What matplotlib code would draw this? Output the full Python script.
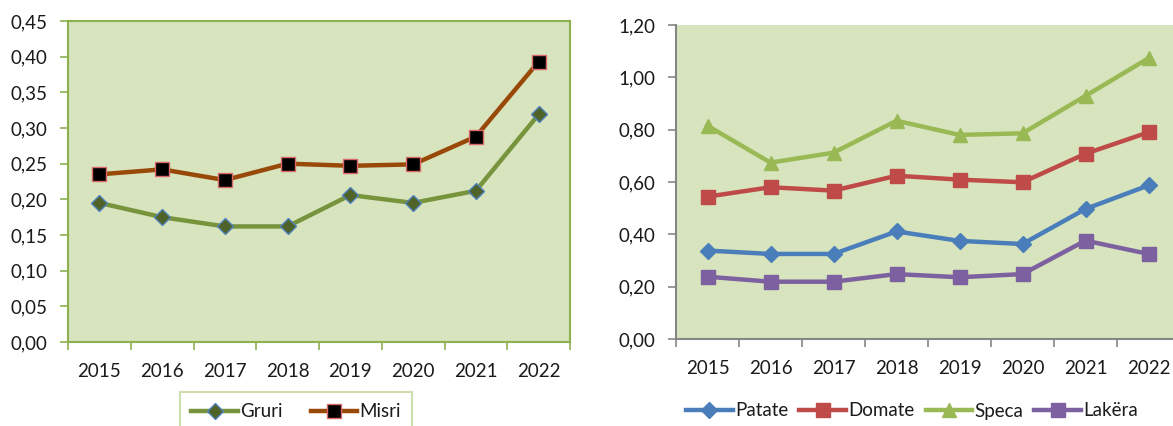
import matplotlib
matplotlib.use("Agg")
import matplotlib.pyplot as plt
from matplotlib.ticker import FixedLocator, FuncFormatter

plt.rcParams['font.family'] = ['Lato', 'DejaVu Sans']

years = ['2015', '2016', '2017', '2018', '2019', '2020', '2021', '2022']
gruri = [0.195, 0.175, 0.162, 0.162, 0.206, 0.195, 0.212, 0.319]
misri = [0.235, 0.242, 0.227, 0.250, 0.247, 0.249, 0.288, 0.393]

patate = [0.338, 0.325, 0.325, 0.411, 0.375, 0.363, 0.497, 0.587]
domate = [0.544, 0.580, 0.567, 0.624, 0.609, 0.599, 0.708, 0.790]
speca = [0.815, 0.674, 0.712, 0.834, 0.780, 0.786, 0.929, 1.073]
lakera = [0.238, 0.219, 0.219, 0.248, 0.236, 0.248, 0.376, 0.325]

W, H = 1173, 426
fig = plt.figure(figsize=(W / 100, H / 100), dpi=100)
FS = 13.5
TXT = '#1a1a1a'
BG = '#d7e4bd'

def comma_fmt(v, pos):
    return f'{v:.2f}'.replace('.', ',')

def setup(ax, ymax, ystep, spine_color, box):
    ax.set_facecolor(BG)
    x = list(range(len(years)))
    ax.set_xlim(-0.5, len(years) - 0.5)
    ax.set_ylim(0, ymax)
    ax.xaxis.set_major_locator(FixedLocator([i - 0.5 for i in range(len(years) + 1)]))
    ax.xaxis.set_minor_locator(FixedLocator(x))
    ax.set_xticklabels([], minor=False)
    ax.set_xticklabels(years, minor=True, fontsize=FS, color=TXT)
    ax.tick_params(axis='x', which='major', length=6, width=1.2, color=spine_color, direction='out')
    ax.tick_params(axis='x', which='minor', length=0, pad=15)
    n = int(round(ymax / ystep))
    ax.set_yticks([i * ystep for i in range(n + 1)])
    ax.yaxis.set_major_formatter(FuncFormatter(comma_fmt))
    ax.tick_params(axis='y', length=6, width=1.2, color=spine_color, labelsize=FS,
                   labelcolor=TXT, pad=9)
    for s in ['left', 'bottom']:
        ax.spines[s].set_color(spine_color)
        ax.spines[s].set_linewidth(1.5)
    for s in ['top', 'right']:
        if box:
            ax.spines[s].set_color(spine_color)
            ax.spines[s].set_linewidth(1.5)
        else:
            ax.spines[s].set_visible(False)
    return x

# Left chart
ax1 = fig.add_axes([68 / W, (H - 342) / H, (570 - 68) / W, (342 - 21) / H])
x = setup(ax1, 0.45, 0.05, '#8db051', True)
l1, = ax1.plot(x, gruri, color='#77933c', lw=3.2, marker='D', ms=8.5,
               mfc='#4f6228', mec='#4f81bd', mew=1.0, label='Gruri')
l2, = ax1.plot(x, misri, color='#984807', lw=3.2, marker='s', ms=10,
               mfc='#000000', mec='#d9696a', mew=1.0, label='Misri')
leg1 = fig.legend(handles=[l1, l2], loc='upper center',
                  bbox_to_anchor=(296 / W, (H - 392) / H), ncol=2,
                  fontsize=FS, frameon=True, fancybox=False,
                  handlelength=2.5, columnspacing=1.5, handletextpad=0.1,
                  borderpad=0.6, borderaxespad=0)
leg1.get_frame().set_edgecolor('#c3d69b')
leg1.get_frame().set_linewidth(1.5)
for t in leg1.get_texts():
    t.set_color(TXT)

# Right chart
ax2 = fig.add_axes([676 / W, (H - 339) / H, (1180 - 676) / W, (339 - 25) / H])
x = setup(ax2, 1.20, 0.20, '#868686', False)
h1, = ax2.plot(x, patate, color='#4a7ebb', lw=3.2, marker='D', ms=8.5, label='Patate')
h2, = ax2.plot(x, domate, color='#be4b48', lw=3.2, marker='s', ms=9.5, label='Domate')
h3, = ax2.plot(x, speca, color='#98b954', lw=3.2, marker='^', ms=10.5, label='Speca')
h4, = ax2.plot(x, lakera, color='#7d60a0', lw=3.2, marker='s', ms=9.5, label='Lakëra')
leg2 = fig.legend(handles=[h1, h2, h3, h4], loc='center',
                  bbox_to_anchor=(912 / W, (H - 411) / H), ncol=4,
                  fontsize=FS, frameon=False, handlelength=2.5,
                  columnspacing=0.6, handletextpad=0.1)
for t in leg2.get_texts():
    t.set_color(TXT)

fig.savefig('out.png', dpi=100)
